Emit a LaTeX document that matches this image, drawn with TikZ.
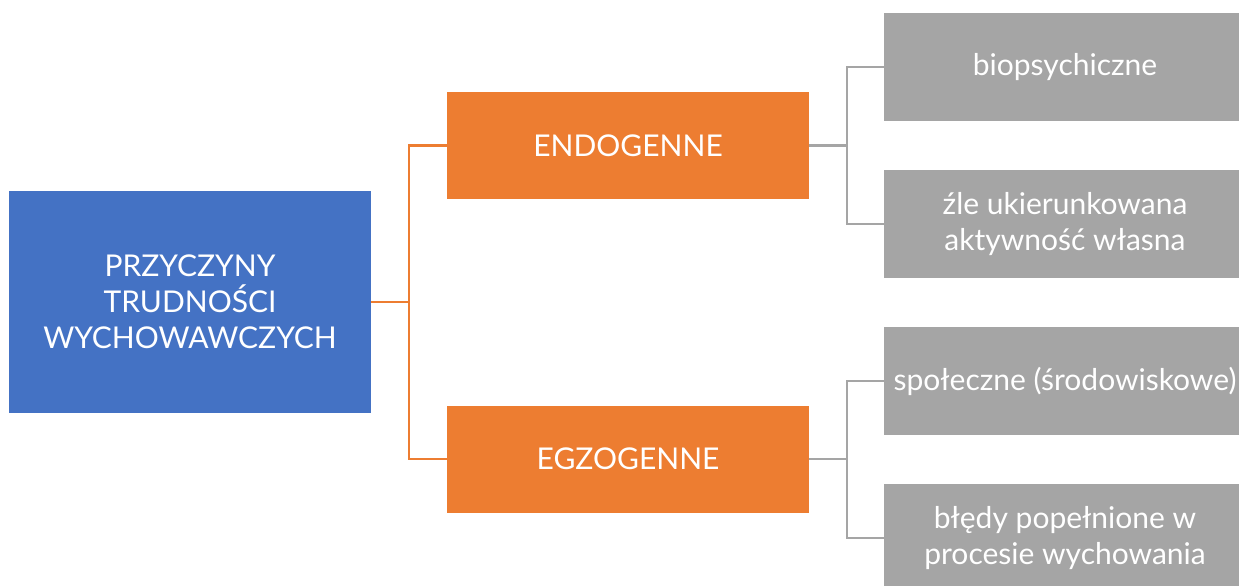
\documentclass[tikz,border=0pt]{standalone}
\usepackage{fontspec}
\setmainfont{Lato}
\definecolor{rootBlue}{HTML}{4472C4}
\definecolor{midOrange}{HTML}{ED7D31}
\definecolor{leafGray}{HTML}{A5A5A5}
\begin{document}
\begin{tikzpicture}[x=1pt,y=-1pt,
  basebox/.style={draw=none, inner sep=0pt, text=white, align=center,
    font=\fontsize{30}{36}\selectfont},
  rootbox/.style={basebox, fill=rootBlue, minimum width=362pt, minimum height=222pt},
  midbox/.style={basebox, fill=midOrange, minimum width=362pt, minimum height=107pt},
  leafbox/.style={basebox, fill=leafGray, minimum width=362pt, minimum height=108pt},
  orangeline/.style={draw=midOrange, line width=2.3pt},
  grayline/.style={draw=leafGray, line width=2.3pt}]
\useasboundingbox (0,0) rectangle (1239,586);
\clip (0,0) rectangle (1239,586);
% root cause
\node[rootbox] (root) at (190,302) {PRZYCZYNY\\TRUDNOŚCI\\WYCHOWAWCZYCH};
% two groups
\node[midbox] (endo) at (628,145.5) {ENDOGENNE};
\node[midbox] (egzo) at (628,459) {EGZOGENNE};
% detailed causes
\node[leafbox] (bio)  at (1065,67)  {biopsychiczne};
\node[leafbox] (zle)  at (1065,224) {źle ukierunkowana\\aktywność własna};
\node[leafbox] (spo)  at (1065,381) {społeczne (środowiskowe)};
\node[leafbox] (bled) at (1065,538) {błędy popełnione w\\procesie wychowania};
% connectors
\draw[orangeline] (root.east) -- ++(38,0) |- (endo.west);
\draw[orangeline] (root.east) -- ++(38,0) |- (egzo.west);
\draw[grayline] (endo.east) -- ++(38,0) |- (bio.west);
\draw[grayline] (endo.east) -- ++(38,0) |- (zle.west);
\draw[grayline] (egzo.east) -- ++(38,0) |- (spo.west);
\draw[grayline] (egzo.east) -- ++(38,0) |- (bled.west);
\end{tikzpicture}
\end{document}
